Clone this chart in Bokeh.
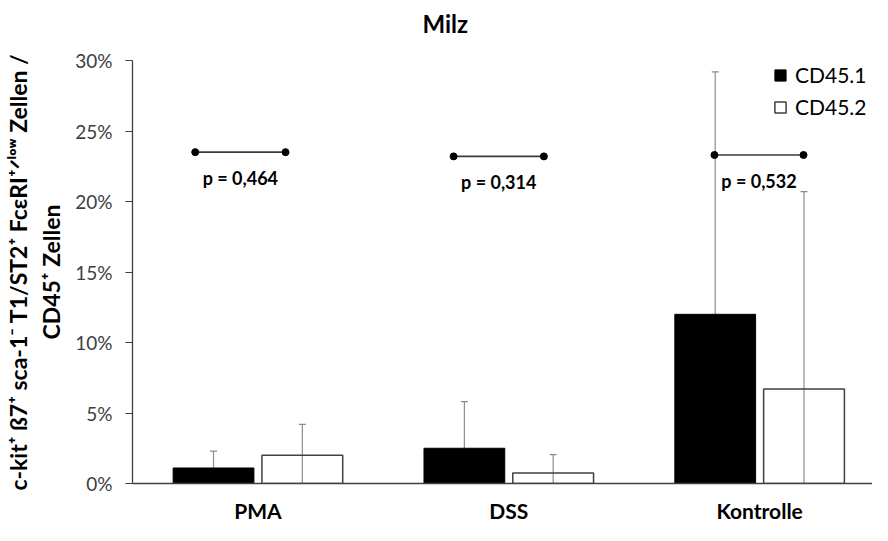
import numpy as np
from bokeh.plotting import figure
from bokeh.models import (ColumnDataSource, Whisker, TeeHead, FixedTicker, PrintfTickFormatter,
                          Legend, LegendItem, Range1d, Title)
from bokeh.core.properties import value
from bokeh.embed import file_html
from bokeh.resources import INLINE

# ---- data (percent) ----
categories = ["PMA", "DSS", "Kontrolle"]
cd451 = [1.1, 2.5, 12.0]
cd451_err = [1.2, 3.3, 17.2]
cd452 = [2.0, 0.75, 6.7]
cd452_err = [2.2, 1.3, 14.0]
p_values = ["p = 0,464", "p = 0,314", "p = 0,532"]
sig_y = [23.5, 23.2, 23.3]
sig_left = [-0.25, -0.22, -0.18]
sig_right = [0.11, 0.14, 0.175]
y_ticks = [0, 5, 10, 15, 20, 25, 30]

FONT = "Lato"
GRAY = "#404040"

xc = np.arange(len(categories))
off = 0.177
bw = 0.322

p = figure(width=872, height=525, output_backend="svg", toolbar_location=None,
           x_range=Range1d(-0.5, 2.45), y_range=Range1d(0, 30),
           min_border_left=132, min_border_right=0, min_border_top=60, min_border_bottom=40)
p.outline_line_color = None
p.grid.grid_line_color = None
p.background_fill_color = "white"

p.title.text = "Milz"
p.title.align = "left"
p.title.offset = 290
p.title.standoff = 0
p.title.text_font = FONT
p.title.text_font_style = "bold"
p.title.text_font_size = "24px"
p.title.text_color = "black"
# empty spacer title between main title and plot area
p.add_layout(Title(text=" ", text_font_size="12px", standoff=7), "above")

# error bars (behind bars)
a1, e1 = np.array(cd451), np.array(cd451_err)
a2, e2 = np.array(cd452), np.array(cd452_err)
src1 = ColumnDataSource(dict(x=xc - off, top=a1, lo=np.clip(a1 - e1, 0, None), hi=a1 + e1))
src2 = ColumnDataSource(dict(x=xc + off, top=a2, lo=np.clip(a2 - e2, 0, None), hi=a2 + e2))
for s in (src1, src2):
    w = Whisker(source=s, base="x", lower="lo", upper="hi", dimension="height",
                line_color="#8c8c8c", line_width=1.2, lower_head=None,
                upper_head=TeeHead(size=7, line_color="#8c8c8c", line_width=1.2),
                level="underlay")
    p.add_layout(w)

r1 = p.vbar(x="x", top="top", width=bw, source=src1, fill_color="black", line_color="black", line_width=1)
r2 = p.vbar(x="x", top="top", width=bw, source=src2, fill_color=None, line_color=GRAY, line_width=1.5)

# significance brackets
sx0 = xc + np.array(sig_left)
sx1 = xc + np.array(sig_right)
p.segment(x0=sx0, y0=sig_y, x1=sx1, y1=sig_y, line_color="#3a3a3a", line_width=1.6)
p.scatter(x=np.concatenate([sx0, sx1]), y=np.concatenate([sig_y, sig_y]), size=7,
          fill_color="black", line_color="black")
p.text(x=(sx0 + sx1) / 2, y=sig_y, text=p_values, text_font=value(FONT), text_font_style="bold",
       text_font_size="18px", text_align="center", text_baseline="top", y_offset=15, text_color="black")

# axes
p.xaxis.ticker = FixedTicker(ticks=list(xc))
p.xaxis.major_label_overrides = {int(i): c for i, c in zip(xc, categories)}
p.xaxis.major_tick_line_color = None
p.xaxis.minor_tick_line_color = None
p.xaxis.axis_line_color = GRAY
p.xaxis.axis_line_width = 1.3
p.xaxis.major_label_text_font = FONT
p.xaxis.major_label_text_font_style = "bold"
p.xaxis.major_label_text_font_size = "21px"
p.xaxis.major_label_text_color = "black"
p.xaxis.major_label_standoff = 8

p.yaxis.ticker = FixedTicker(ticks=y_ticks)
p.yaxis.formatter = PrintfTickFormatter(format="%d%%")
p.yaxis.minor_tick_line_color = None
p.yaxis.major_tick_out = 7
p.yaxis.major_tick_in = 0
p.yaxis.major_tick_line_color = GRAY
p.yaxis.axis_line_color = GRAY
p.yaxis.axis_line_width = 1.3
p.yaxis.major_label_text_font = FONT
p.yaxis.major_label_text_font_size = "19px"
p.yaxis.major_label_text_color = GRAY
p.yaxis.major_label_standoff = 13
p.yaxis.axis_label = "c-kit\u207a \u00df7\u207a sca-1\u207b T1/ST2\u207a Fc\u03b5RI\u207a\u141f\u02e1\u1d52\u02b7 Zellen /\nCD45\u207a Zellen"
p.yaxis.axis_label_text_font = FONT
p.yaxis.axis_label_text_font_style = "bold"
p.yaxis.axis_label_text_font_size = "23px"
p.yaxis.axis_label_text_color = "black"
p.yaxis.axis_label_standoff = 7

# legend
legend = Legend(items=[LegendItem(label="CD45.1", renderers=[r1]),
                       LegendItem(label="CD45.2", renderers=[r2])],
                location=(641, 364), orientation="vertical")
legend.border_line_color = None
legend.background_fill_alpha = 0
legend.padding = 0
legend.margin = 0
legend.glyph_width = 14
legend.glyph_height = 14
legend.label_standoff = 8
legend.spacing = 7
legend.label_text_font = FONT
legend.label_text_font_size = "21px"
legend.label_text_color = "black"
p.add_layout(legend)

open("out.html", "w").write(file_html(p, INLINE))
